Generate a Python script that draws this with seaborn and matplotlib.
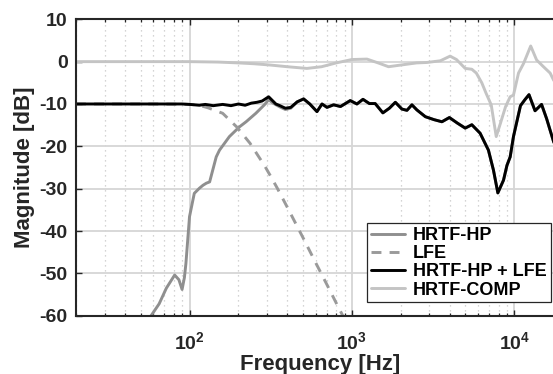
#!/usr/bin/env python3
import matplotlib
matplotlib.use("Agg")
import matplotlib.pyplot as plt
import matplotlib.ticker as mticker
import pandas as pd
import seaborn as sns

# values (frequency in Hz, magnitude in dB)
hp_freq = [55, 58, 65, 72, 81, 86, 90, 93, 95, 100, 107, 115, 121, 127, 133, 146, 153, 176,
           203, 223, 256, 289, 307, 330, 360, 389, 420, 460, 504, 550, 609, 654, 702, 771,
           850, 976, 1073, 1169, 1280, 1390, 1550, 1700, 1850, 2030, 2180, 2340, 2510, 2830,
           3200, 3580, 3980, 4450, 4980, 5470, 6150, 6920, 7430, 7910, 8570, 9000, 9420,
           9870, 10900, 11600, 12300, 13400, 14700, 15800, 17400, 20000]
hp_mag = [-61.5, -60.0, -57.2, -53.5, -50.4, -51.5, -53.8, -51.0, -47.7, -36.6, -31.1, -29.9,
          -29.2, -28.7, -28.4, -22.5, -20.9, -17.7, -15.4, -14.2, -12.2, -10.2, -9.0, -9.9,
          -10.7, -11.3, -11.0, -9.5, -8.8, -10.0, -11.8, -10.0, -10.8, -10.2, -10.6, -9.2,
          -10.0, -8.9, -9.9, -9.9, -12.1, -11.0, -9.6, -11.2, -11.5, -10.2, -11.4, -13.0,
          -13.7, -14.2, -13.2, -14.5, -15.7, -14.9, -16.9, -20.9, -25.6, -31.0, -28.0, -24.5,
          -22.5, -17.7, -10.4, -9.0, -7.8, -11.6, -10.1, -13.5, -18.8, -25.0]

lfe_freq = [20, 60, 80, 100, 112, 130, 160, 195, 236, 260, 290, 314, 346, 400, 450, 500,
            600, 700, 800, 900]
lfe_mag = [-10.0, -10.0, -10.05, -10.1, -10.2, -10.9, -12.2, -15.4, -19.3, -21.8, -24.6,
           -26.9, -29.8, -34.4, -38.2, -41.6, -47.6, -52.6, -57.0, -60.8]

sum_freq = [20, 50, 90, 100, 115, 125, 140, 160, 180, 200, 220, 240, 260, 280, 307, 340,
            360, 389, 420, 460, 504, 550, 609, 654, 702, 771, 850, 976, 1073, 1169, 1280,
            1390, 1550, 1700, 1850, 2030, 2180, 2340, 2510, 2830, 3200, 3580, 3980, 4450,
            4980, 5470, 6150, 6920, 7430, 7910, 8570, 9000, 9420, 9870, 10900, 11600, 12300,
            13400, 14700, 15800, 17400, 20000]
sum_mag = [-10.0, -10.0, -10.0, -10.1, -10.3, -10.1, -10.4, -10.1, -10.4, -10.0, -10.3,
           -9.8, -9.6, -9.3, -8.3, -10.0, -10.4, -11.0, -10.8, -9.5, -8.8, -10.0, -11.8,
           -10.0, -10.8, -10.2, -10.6, -9.2, -10.0, -8.9, -9.9, -9.9, -12.1, -11.0, -9.6,
           -11.2, -11.5, -10.2, -11.4, -13.0, -13.7, -14.2, -13.2, -14.5, -15.7, -14.9,
           -16.9, -20.9, -25.6, -31.0, -28.0, -24.5, -22.5, -17.7, -10.4, -9.0, -7.8, -11.6,
           -10.1, -13.5, -18.8, -25.0]

comp_freq = [20, 100, 150, 200, 250, 314, 400, 528, 650, 800, 1000, 1237, 1450, 1680, 2000,
             2500, 2890, 3500, 4020, 4400, 4980, 5470, 5830, 6300, 6700, 7200, 7730, 8200,
             8830, 9420, 9870, 10600, 11400, 12600, 13700, 15100, 16600, 17400, 20000]
comp_mag = [0.0, 0.0, -0.1, -0.3, -0.5, -0.8, -1.2, -1.6, -1.2, -0.3, 0.5, 0.6, -0.3, -1.2,
            -0.8, -0.3, -0.2, 0.2, 1.3, 0.5, -1.6, -1.8, -2.7, -5.0, -7.5, -10.2, -17.7, -14.6,
            -10.6, -8.3, -7.9, -2.7, -0.4, 3.7, 0.4, -1.2, -2.7, -4.3, -8.0]

labels = ["HRTF-HP", "LFE", "HRTF-HP + LFE", "HRTF-COMP"]
y_ticks = [-60, -50, -40, -30, -20, -10, 0, 10]
x_ticks = [100, 1000, 10000]
x_ticklabels = [r"$\mathbf{10^{2}}$", r"$\mathbf{10^{3}}$", r"$\mathbf{10^{4}}$"]


def main() -> int:
    sns.set_theme(style="ticks")
    plt.rcParams["font.family"] = ["Liberation Sans", "DejaVu Sans"]
    plt.rcParams["font.weight"] = "bold"
    plt.rcParams["axes.unicode_minus"] = False
    plt.rcParams["mathtext.fontset"] = "custom"
    plt.rcParams["mathtext.bf"] = "Liberation Sans:bold"
    plt.rcParams["mathtext.rm"] = "Liberation Sans:bold"

    frames = [
        pd.DataFrame({"freq": hp_freq, "mag": hp_mag, "curve": labels[0]}),
        pd.DataFrame({"freq": lfe_freq, "mag": lfe_mag, "curve": labels[1]}),
        pd.DataFrame({"freq": sum_freq, "mag": sum_mag, "curve": labels[2]}),
        pd.DataFrame({"freq": comp_freq, "mag": comp_mag, "curve": labels[3]}),
    ]
    df = pd.concat(frames, ignore_index=True)

    palette = {labels[0]: "#8f8f8f", labels[1]: "#9a9a9a", labels[2]: "#000000", labels[3]: "#c4c4c4"}
    dashes = {labels[0]: "", labels[1]: (3.4, 2.8), labels[2]: "", labels[3]: ""}

    fig = plt.figure(figsize=(5.53, 3.74), dpi=100)
    ax = fig.add_axes([0.1374, 0.1559, 0.8812, 0.7925])

    sns.lineplot(data=df, x="freq", y="mag", hue="curve", style="curve", hue_order=labels,
                 style_order=labels, palette=palette, dashes=dashes, linewidth=2.1,
                 estimator=None, sort=False, ax=ax)

    ax.set_xscale("log")
    ax.set_xlim(20, 20000)
    ax.set_ylim(-60, 10)
    ax.set_yticks(y_ticks)
    ax.set_yticklabels([str(v) for v in y_ticks])
    ax.set_xticks(x_ticks)
    ax.set_xticklabels(x_ticklabels)
    ax.xaxis.set_minor_locator(mticker.LogLocator(base=10, subs=range(2, 10)))
    ax.xaxis.set_minor_formatter(mticker.NullFormatter())

    ax.grid(which="major", color="#d6d6d6", linewidth=1.3, linestyle="-")
    ax.grid(which="minor", axis="x", color="#c6c6c6", linewidth=0.9, linestyle=(0, (1, 3)))
    ax.set_axisbelow(True)

    ax.tick_params(which="both", direction="in", top=True, right=True, color="#262626")
    ax.tick_params(which="major", length=4, width=1.0, labelsize=14, pad=6, colors="#262626")
    ax.tick_params(which="minor", length=2.5, width=0.9)
    ax.tick_params(axis="x", which="major", pad=11)
    for spine in ax.spines.values():
        spine.set_color("#262626")
        spine.set_linewidth(1.5)

    ax.set_xlabel("Frequency [Hz]", fontsize=16, fontweight="bold", color="#262626", labelpad=0.5)
    ax.set_ylabel("Magnitude [dB]", fontsize=16, fontweight="bold", color="#262626", labelpad=3)

    handles, names = ax.get_legend_handles_labels()
    leg = ax.legend(handles, names, loc="upper left", bbox_to_anchor=(366.7 / 553, 1 - 223.3 / 374),
                    bbox_transform=fig.transFigure, borderaxespad=0, fontsize=13,
                    handlelength=1.9, handletextpad=0.45, labelspacing=0.06, borderpad=0.22,
                    fancybox=False, framealpha=1, edgecolor="#262626")
    leg.get_frame().set_linewidth(0.9)
    for text in leg.get_texts():
        text.set_fontweight("bold")
        text.set_color("#000000")

    fig.savefig("out.png", dpi=100)
    return 0


if __name__ == "__main__":
    raise SystemExit(main())
